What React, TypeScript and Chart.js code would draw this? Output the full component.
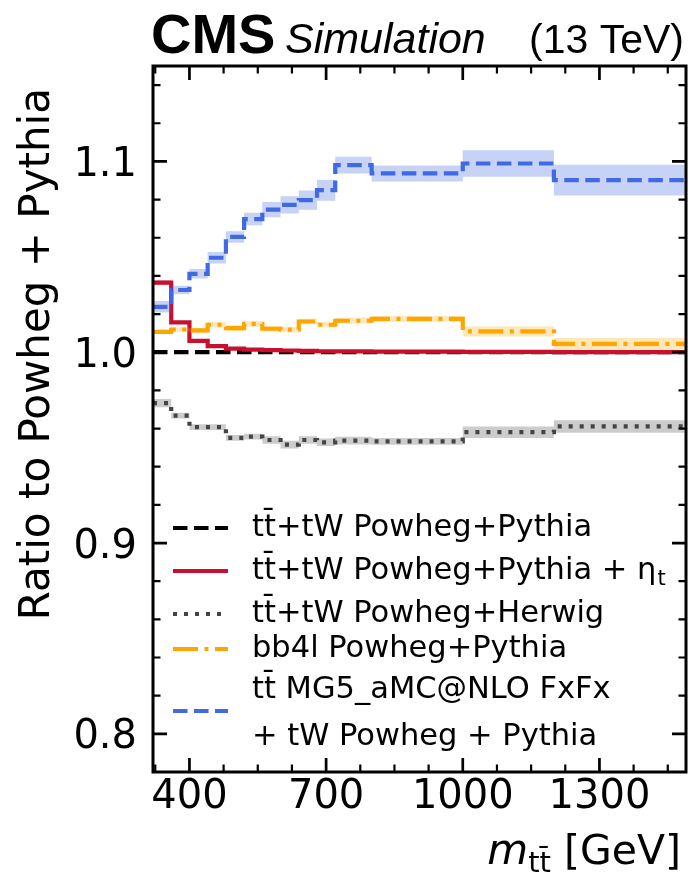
import React, { useEffect, useRef } from 'react';
import { Chart, registerables } from 'chart.js';

Chart.register(...registerables);

// ---------------- data ----------------
const binEdges = [320, 360, 400, 440, 480, 520, 560, 600, 640, 680, 720, 800, 1000, 1200, 1490];
const powhegPythia = [1, 1, 1, 1, 1, 1, 1, 1, 1, 1, 1, 1, 1, 1];
const etaT = [1.0365, 1.0156, 1.0059, 1.0032, 1.0019, 1.0014, 1.0011, 1.0009, 1.0007, 1.0005, 1.0004, 1.0003, 1.0002, 1.0001];
const etaTErr = [0.0012, 0.0008, 0.0005, 0.0004, 0.0003, 0.0003, 0.0003, 0.0003, 0.0003, 0.0003, 0.0003, 0.0003, 0.0003, 0.0003];
const herwig = [0.9733, 0.9668, 0.9607, 0.9607, 0.9551, 0.9558, 0.954, 0.9516, 0.954, 0.9528, 0.9537, 0.9533, 0.9581, 0.9611];
const herwigErr = [0.0022, 0.0015, 0.0015, 0.0015, 0.0015, 0.0015, 0.002, 0.002, 0.002, 0.002, 0.002, 0.0018, 0.003, 0.0033];
const bb4l = [1.0107, 1.0119, 1.0114, 1.0144, 1.0126, 1.0149, 1.0123, 1.0118, 1.0161, 1.0144, 1.0165, 1.0175, 1.0109, 1.0044];
const bb4lErr = [0.0012, 0.0012, 0.0012, 0.0015, 0.0015, 0.0015, 0.0015, 0.0015, 0.0015, 0.0015, 0.0015, 0.0015, 0.0026, 0.003];
const mg5 = [1.0238, 1.0326, 1.0411, 1.0495, 1.0604, 1.0698, 1.0747, 1.0772, 1.0797, 1.0849, 1.0981, 1.0937, 1.0989, 1.0902];
const mg5Err = [0.003, 0.0022, 0.0025, 0.003, 0.003, 0.0033, 0.004, 0.0045, 0.005, 0.0055, 0.0044, 0.0042, 0.0069, 0.0081];

const xMajorTicks = [400, 700, 1000, 1300];
const xMinorStep = 75;
const yMajorTicks = [0.8, 0.9, 1.0, 1.1];
const yMinorStep = 0.02;
const xLimits = [320, 1490];
const yLimits = [0.78, 1.15];

const legendLabels = [
  ['tt\u0304+tW Powheg+Pythia'],
  ['tt\u0304+tW Powheg+Pythia + η', 't'],
  ['tt\u0304+tW Powheg+Herwig'],
  ['bb4l Powheg+Pythia'],
  ['tt\u0304 MG5_aMC@NLO FxFx', '+ tW Powheg + Pythia'],
];

// ---------------- styles ----------------
const LW = 4.2;
const styles = {
  nominal: { color: '#000000', dash: [14.5, 6.5], band: null },
  eta: { color: '#c8102e', dash: [], band: 'rgba(220,20,60,0.3)' },
  herwig: { color: '#444444', dash: [4, 7], band: 'rgba(128,128,128,0.4)' },
  bb4l: { color: '#ffa500', dash: [25, 6.5, 4, 6.5], band: 'rgba(255,165,0,0.27)' },
  mg5: { color: '#4169e1', dash: [14.5, 6.5], band: 'rgba(65,105,225,0.3)' },
};

function stepPts(vals: number[]) {
  return binEdges.map((x, i) => ({ x, y: vals[Math.min(i, vals.length - 1)] }));
}

function buildDatasets() {
  const ds: any[] = [];
  const series = [
    { key: 'mg5', vals: mg5, err: mg5Err, order: 12 },
    { key: 'bb4l', vals: bb4l, err: bb4lErr, order: 14 },
    { key: 'herwig', vals: herwig, err: herwigErr, order: 16 },
    { key: 'eta', vals: etaT, err: etaTErr, order: 18 },
  ];
  for (const s of series) {
    const st = (styles as any)[s.key];
    ds.push({
      data: stepPts(s.vals.map((v, i) => v + s.err[i])),
      stepped: 'before', borderColor: 'transparent', borderWidth: 0, pointRadius: 0, fill: false, order: s.order + 1,
    });
    ds.push({
      data: stepPts(s.vals.map((v, i) => v - s.err[i])),
      stepped: 'before', borderColor: 'transparent', borderWidth: 0, pointRadius: 0,
      fill: '-1', backgroundColor: st.band, order: s.order + 1,
    });
    ds.push({
      data: stepPts(s.vals),
      stepped: 'before', borderColor: st.color, borderWidth: LW, borderDash: st.dash,
      borderCapStyle: 'butt', borderJoinStyle: 'miter', pointRadius: 0, fill: false, order: s.order,
    });
  }
  ds.push({
    data: stepPts(powhegPythia), stepped: 'before', borderColor: styles.nominal.color, borderWidth: LW,
    borderDash: styles.nominal.dash, pointRadius: 0, fill: false, order: 30,
  });
  return ds;
}

const DV = '"DejaVu Sans"';
const LS = '"Liberation Sans", Arial, sans-serif';

const decorPlugin = {
  id: 'decor',
  afterDraw(chart: any) {
    const { ctx, chartArea: a } = chart;
    const xs = chart.scales.x;
    const ys = chart.scales.y;
    ctx.save();
    ctx.fillStyle = '#000';
    ctx.strokeStyle = '#000';

    // ticks (inward, all four sides)
    const xMinor: number[] = [];
    for (let k = -5; k < 40; k++) {
      const v = xMajorTicks[0] + k * xMinorStep;
      if (v > xLimits[0] + 4 && v < xLimits[1] - 4 && !xMajorTicks.includes(v)) xMinor.push(v);
    }
    const yMinor: number[] = [];
    for (let k = 0; k < 40; k++) {
      const v = +(0.7 + k * yMinorStep).toFixed(3);
      if (v > yLimits[0] + 0.002 && v < yLimits[1] - 0.002 && !yMajorTicks.some((m) => Math.abs(m - v) < 1e-6)) yMinor.push(v);
    }
    const drawX = (vals: number[], len: number, w: number) => {
      ctx.lineWidth = w;
      for (const v of vals) {
        const px = xs.getPixelForValue(v);
        ctx.beginPath();
        ctx.moveTo(px, a.bottom); ctx.lineTo(px, a.bottom - len);
        ctx.moveTo(px, a.top); ctx.lineTo(px, a.top + len);
        ctx.stroke();
      }
    };
    const drawY = (vals: number[], len: number, w: number) => {
      ctx.lineWidth = w;
      for (const v of vals) {
        const py = ys.getPixelForValue(v);
        ctx.beginPath();
        ctx.moveTo(a.left, py); ctx.lineTo(a.left + len, py);
        ctx.moveTo(a.right, py); ctx.lineTo(a.right - len, py);
        ctx.stroke();
      }
    };
    drawX(xMajorTicks, 14, 2.7);
    drawX(xMinor, 7.5, 2.2);
    drawY(yMajorTicks, 14, 2.7);
    drawY(yMinor, 7.5, 2.2);

    // frame
    ctx.lineWidth = 3;
    ctx.strokeRect(a.left, a.top, a.right - a.left, a.bottom - a.top);

    // tick labels
    ctx.font = `40px ${DV}`;
    ctx.textBaseline = 'alphabetic';
    ctx.textAlign = 'center';
    for (const v of xMajorTicks) ctx.fillText(String(v), xs.getPixelForValue(v), a.bottom + 36);
    ctx.textAlign = 'right';
    for (const v of yMajorTicks) ctx.fillText(v.toFixed(1), a.left - 16, ys.getPixelForValue(v) + 14.5);

    // y axis title
    ctx.save();
    ctx.translate(49, 88);
    ctx.rotate(-Math.PI / 2);
    ctx.font = `42px ${DV}`;
    ctx.textAlign = 'right';
    ctx.fillText('Ratio to Powheg + Pythia', 0, 0);
    ctx.restore();

    // x axis title: m_{tt̄} [GeV]
    {
      ctx.textAlign = 'left';
      const f1 = `italic 42px ${DV}`;
      const f2 = `29px ${DV}`;
      const f3 = `41px ${DV}`;
      ctx.font = f1; const w1 = ctx.measureText('m').width;
      ctx.font = f2; const w2 = ctx.measureText('tt\u0304').width;
      ctx.font = f3; const w3 = ctx.measureText(' [GeV]').width;
      const base = 864;
      let x0 = 681 - (w1 + w2 + w3);
      ctx.font = f1; ctx.fillText('m', x0, base); x0 += w1;
      ctx.font = f2; ctx.fillText('tt\u0304', x0, base + 8); x0 += w2;
      ctx.font = f3; ctx.fillText(' [GeV]', x0, base);
    }

    // CMS header
    ctx.textAlign = 'left';
    ctx.font = `bold 56px ${LS}`;
    ctx.fillText('CMS', 151, 53);
    ctx.font = `italic 43px ${LS}`;
    ctx.fillText('Simulation', 285, 53);
    ctx.textAlign = 'right';
    ctx.font = `41px ${LS}`;
    ctx.fillText('(13 TeV)', 684, 53);

    // legend
    const rows = [
      { st: styles.nominal, y: 528 },
      { st: styles.eta, y: 571 },
      { st: styles.herwig, y: 614 },
      { st: styles.bb4l, y: 649 },
      { st: styles.mg5, y: 711 },
    ];
    ctx.textAlign = 'left';
    rows.forEach((r, i) => {
      ctx.save();
      ctx.strokeStyle = r.st.color;
      ctx.lineWidth = LW;
      ctx.lineCap = 'butt';
      ctx.setLineDash(r.st.dash);
      ctx.beginPath();
      ctx.moveTo(173, r.y); ctx.lineTo(228, r.y);
      ctx.stroke();
      ctx.restore();
      const lab = legendLabels[i];
      ctx.font = `30.5px ${DV}`;
      if (i === 1) {
        const base = r.y + 8;
        ctx.fillText(lab[0], 252, base);
        const w = ctx.measureText(lab[0]).width;
        ctx.font = `21px ${DV}`;
        ctx.fillText(lab[1], 252 + w + 1, base + 6);
      } else if (lab.length === 2) {
        ctx.fillText(lab[0], 252, 698);
        ctx.fillText(lab[1], 252, 745);
      } else {
        ctx.fillText(lab[0], 252, r.y + 8);
      }
    });

    ctx.restore();
  },
};

export default function App() {
  const ref = useRef<HTMLCanvasElement | null>(null);
  useEffect(() => {
    if (!ref.current) return;
    const chart = new Chart(ref.current, {
      type: 'line',
      data: { datasets: buildDatasets() },
      options: {
        animation: false,
        responsive: false,
        maintainAspectRatio: false,
        devicePixelRatio: 1,
        layout: { padding: { left: 0, top: 66, right: 8, bottom: 0 } },
        plugins: { legend: { display: false }, tooltip: { enabled: false }, title: { display: false } },
        scales: {
          x: {
            type: 'linear', min: xLimits[0], max: xLimits[1],
            grid: { display: false }, border: { display: false },
            ticks: { display: false },
            afterBuildTicks: (s: any) => { s.ticks = xMajorTicks.map((v) => ({ value: v })); },
            afterFit: (s: any) => { s.height = 107; },
          },
          y: {
            type: 'linear', min: yLimits[0], max: yLimits[1],
            grid: { display: false }, border: { display: false },
            ticks: { display: false },
            afterBuildTicks: (s: any) => { s.ticks = yMajorTicks.map((v) => ({ value: v })); },
            afterFit: (s: any) => { s.width = 153; },
          },
        },
      } as any,
      plugins: [decorPlugin],
    });
    return () => chart.destroy();
  }, []);
  return (
    <div style={{ position: 'fixed', left: 0, top: 0, width: 694, height: 879, background: '#fff' }}>
      <canvas ref={ref} width={694} height={879} style={{ display: 'block', width: 694, height: 879 }} />
    </div>
  );
}
